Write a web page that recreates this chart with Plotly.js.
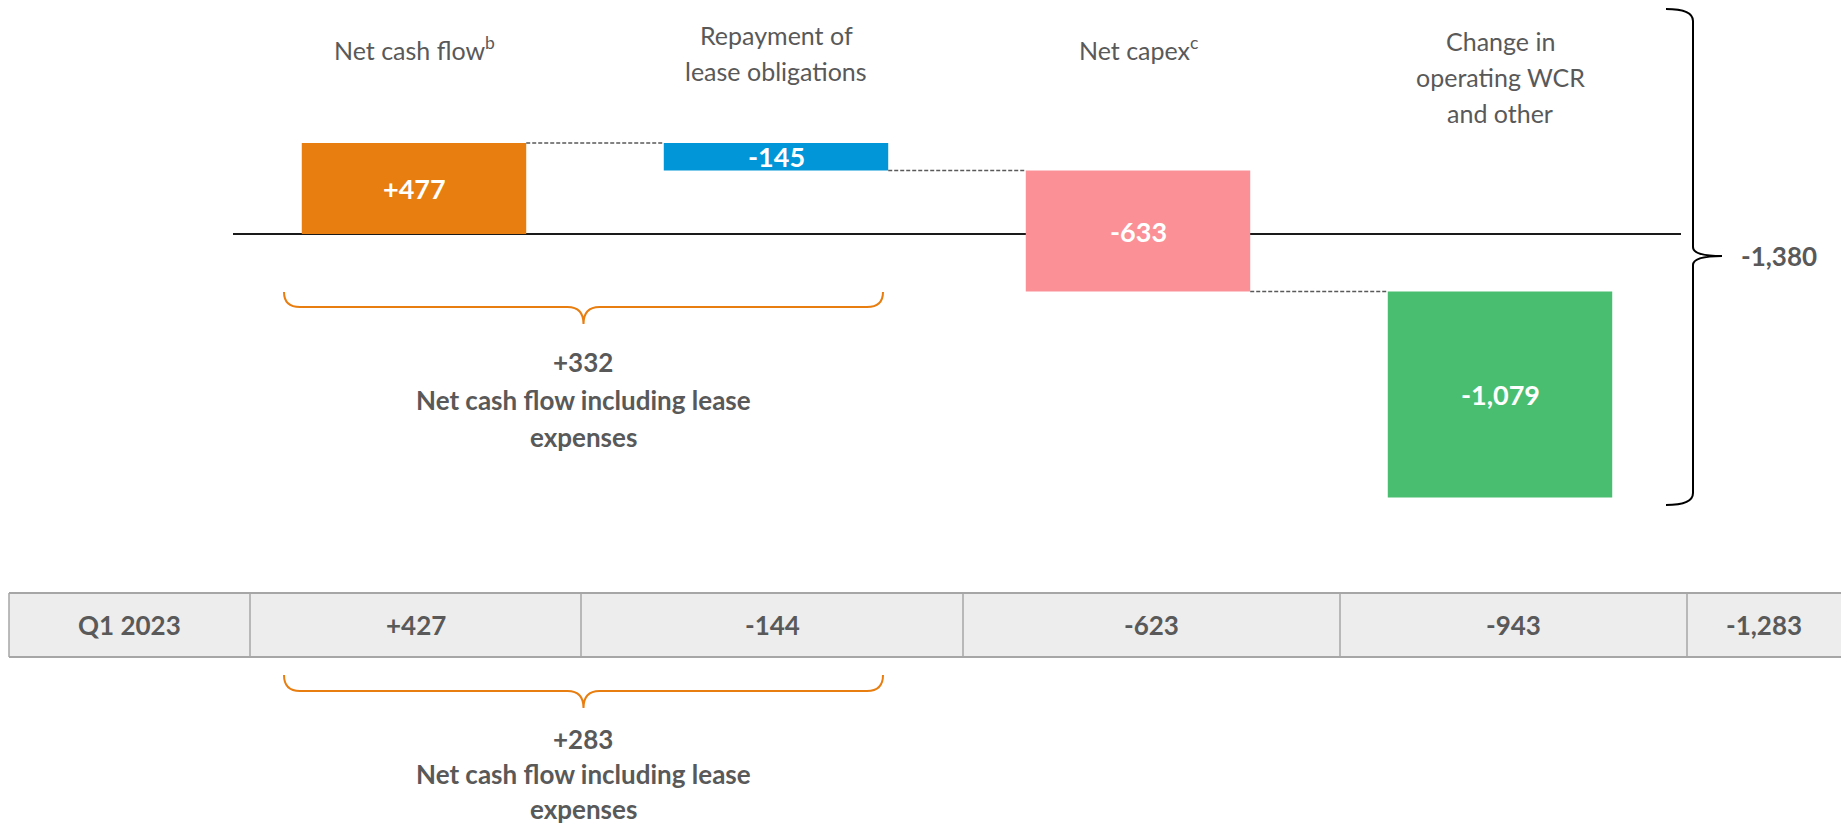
<!DOCTYPE html>
<html>
<head>
<meta charset="utf-8">
<script src="https://cdn.plot.ly/plotly-3.0.1.min.js"></script>
<style>html,body{margin:0;padding:0;background:#fff;}#chart{width:1841px;height:825px;}</style>
</head>
<body>
<div id="chart"></div>
<script>
// ---- data ----
const categories = ['Net cash flow<sup>b</sup>', 'Repayment of<br>lease obligations', 'Net capex<sup>c</sup>', 'Change in<br>operating WCR<br>and other'];
const barValues = [477, -145, -633, -1079];
const compareLabel = 'Q1 2023';
const compareValues = [427, -144, -623, -943];
const subtotalLabel = 'Net cash flow including lease<br>expenses';

// ---- styles ----
const W = 1841, H = 825;
const barColors = ['#E87E10', '#0096D8', '#FB9197', '#49BE71'];
const GRAY = '#595959';
const FONT = 'Lato, "Open Sans", sans-serif';
const X = p => p / W;
const Y = p => 1 - p / H;
const fmt = v => (v > 0 ? '+' : '') + v.toLocaleString('en-US');

// cumulative bases
const bases = [];
let cum = 0;
barValues.forEach(v => { bases.push(cum); cum += v; });
const total = cum;
const compareTotal = compareValues.reduce((a, b) => a + b, 0);
const subtotal = barValues[0] + barValues[1];
const compareSubtotal = compareValues[0] + compareValues[1];

const xs = categories.map((_, i) => i);
const BW = 0.62;

const traces = [{
  type: 'bar', x: xs, y: barValues, base: bases, width: BW,
  marker: {color: barColors, line: {width: 0}},
  textposition: 'none', hoverinfo: 'skip', cliponaxis: false
}];
// dashed connectors between bars
for (let i = 0; i < barValues.length - 1; i++) {
  const lvl = bases[i] + barValues[i];
  traces.push({
    type: 'scatter', mode: 'lines', x: [i + BW / 2, i + 1 - BW / 2], y: [lvl, lvl],
    line: {color: GRAY, width: 1.5, dash: '4px,2px'}, hoverinfo: 'skip', showlegend: false
  });
}

const annotations = [];
const shapes = [];
// bar value labels, centred in each bar
barValues.forEach((v, i) => {
  annotations.push({xref: 'x', yref: 'y', x: i, y: bases[i] + v / 2, text: fmt(v), showarrow: false,
    xanchor: 'center', yanchor: 'middle', font: {family: FONT, size: 27, color: '#ffffff', weight: 'bold'}});
});
function lines(text, xval, xref, y0, step, font, anchor) {
  text.split('<br>').forEach((t, k) => {
    annotations.push({xref: xref, yref: 'paper', x: xval, y: Y(y0 + k * step), text: t,
      showarrow: false, xanchor: anchor || 'center', yanchor: 'middle', font: font});
  });
}
// category labels
const labelTop = [48, 35, 48, 41];
const catFont = {family: FONT, size: 25, color: GRAY};
categories.forEach((c, i) => lines(c, i, 'x', labelTop[i], 36, catFont));

// subtotal blocks
const boldFont = {family: FONT, size: 26, color: GRAY, weight: 'bold'};
lines(fmt(subtotal) + '<br>' + subtotalLabel, X(583), 'paper', 362, 37.5, boldFont);
lines(fmt(compareSubtotal) + '<br>' + subtotalLabel, X(583), 'paper', 739, 35, boldFont);

// total label
annotations.push({xref: 'paper', yref: 'paper', x: X(1739), y: Y(256), text: fmt(total),
  showarrow: false, xanchor: 'left', yanchor: 'middle', font: boldFont});

// braces
function curlyH(x0, x1, yTop, yLine, yTip, r) {
  const xm = (x0 + x1) / 2;
  return 'M' + X(x0) + ',' + Y(yTop) +
    ' Q' + X(x0) + ',' + Y(yLine) + ' ' + X(x0 + r) + ',' + Y(yLine) +
    ' L' + X(xm - r) + ',' + Y(yLine) +
    ' Q' + X(xm) + ',' + Y(yLine) + ' ' + X(xm) + ',' + Y(yTip) +
    ' Q' + X(xm) + ',' + Y(yLine) + ' ' + X(xm + r) + ',' + Y(yLine) +
    ' L' + X(x1 - r) + ',' + Y(yLine) +
    ' Q' + X(x1) + ',' + Y(yLine) + ' ' + X(x1) + ',' + Y(yTop);
}
shapes.push({type: 'path', xref: 'paper', yref: 'paper', path: curlyH(284, 883, 292, 307, 324, 16),
  line: {color: '#E87E10', width: 2}});
shapes.push({type: 'path', xref: 'paper', yref: 'paper', path: curlyH(284, 883, 675, 691, 708, 16),
  line: {color: '#E87E10', width: 2}});
// right black brace
(function () {
  const xe = 1666, xl = 1693, xt = 1722, yt = 9, yb = 505, ym = 256, r = 12;
  const p = 'M' + X(xe) + ',' + Y(yt) +
    ' Q' + X(xl) + ',' + Y(yt) + ' ' + X(xl) + ',' + Y(yt + r) +
    ' L' + X(xl) + ',' + Y(ym - 9) +
    ' Q' + X(xl) + ',' + Y(ym) + ' ' + X(xt) + ',' + Y(ym) +
    ' Q' + X(xl) + ',' + Y(ym) + ' ' + X(xl) + ',' + Y(ym + 9) +
    ' L' + X(xl) + ',' + Y(yb - r) +
    ' Q' + X(xl) + ',' + Y(yb) + ' ' + X(xe) + ',' + Y(yb);
  shapes.push({type: 'path', xref: 'paper', yref: 'paper', path: p, line: {color: '#000', width: 2}});
})();

// table
const tTop = 593, tBot = 657;
const colEdges = [9, 250, 581, 963, 1340, 1687, 1845];
shapes.push({type: 'rect', xref: 'paper', yref: 'paper', x0: X(9), x1: X(1845), y0: Y(tBot), y1: Y(tTop),
  fillcolor: '#EDEDED', line: {width: 0}, layer: 'below'});
[tTop, tBot].forEach(yy => shapes.push({type: 'line', xref: 'paper', yref: 'paper', x0: X(9), x1: X(1845),
  y0: Y(yy), y1: Y(yy), line: {color: '#A6A6A6', width: 2}}));
colEdges.slice(0, -1).forEach(xx => shapes.push({type: 'line', xref: 'paper', yref: 'paper', x0: X(xx), x1: X(xx),
  y0: Y(tTop), y1: Y(tBot), line: {color: '#A6A6A6', width: 1.5}}));
const cells = [compareLabel].concat(compareValues.map(fmt), [fmt(compareTotal)]);
cells.forEach((t, i) => {
  annotations.push({xref: 'paper', yref: 'paper', x: X((colEdges[i] + Math.min(colEdges[i + 1], W)) / 2),
    y: Y((tTop + tBot) / 2), text: t, showarrow: false, xanchor: 'center', yanchor: 'middle', font: boldFont});
});

// y scale: 0 at 234px, 0.191 px per unit
const k = 0.191, y0px = 234;
const layout = {
  width: W, height: H, margin: {l: 0, r: 0, t: 0, b: 0, pad: 0},
  paper_bgcolor: '#fff', plot_bgcolor: '#fff', showlegend: false, barmode: 'overlay',
  xaxis: {domain: [X(233), X(1681)], range: [-0.5, 3.5], visible: false, fixedrange: true},
  yaxis: {domain: [0, 1], range: [(y0px - H) / k, y0px / k], showgrid: false, showticklabels: false,
    ticks: '', showline: false, zeroline: true, zerolinecolor: '#1a1a1a', zerolinewidth: 2, fixedrange: true},
  shapes: shapes, annotations: annotations,
  font: {family: FONT, color: GRAY}
};
Plotly.newPlot('chart', traces, layout, {displayModeBar: false, staticPlot: true});
</script>
</body>
</html>
